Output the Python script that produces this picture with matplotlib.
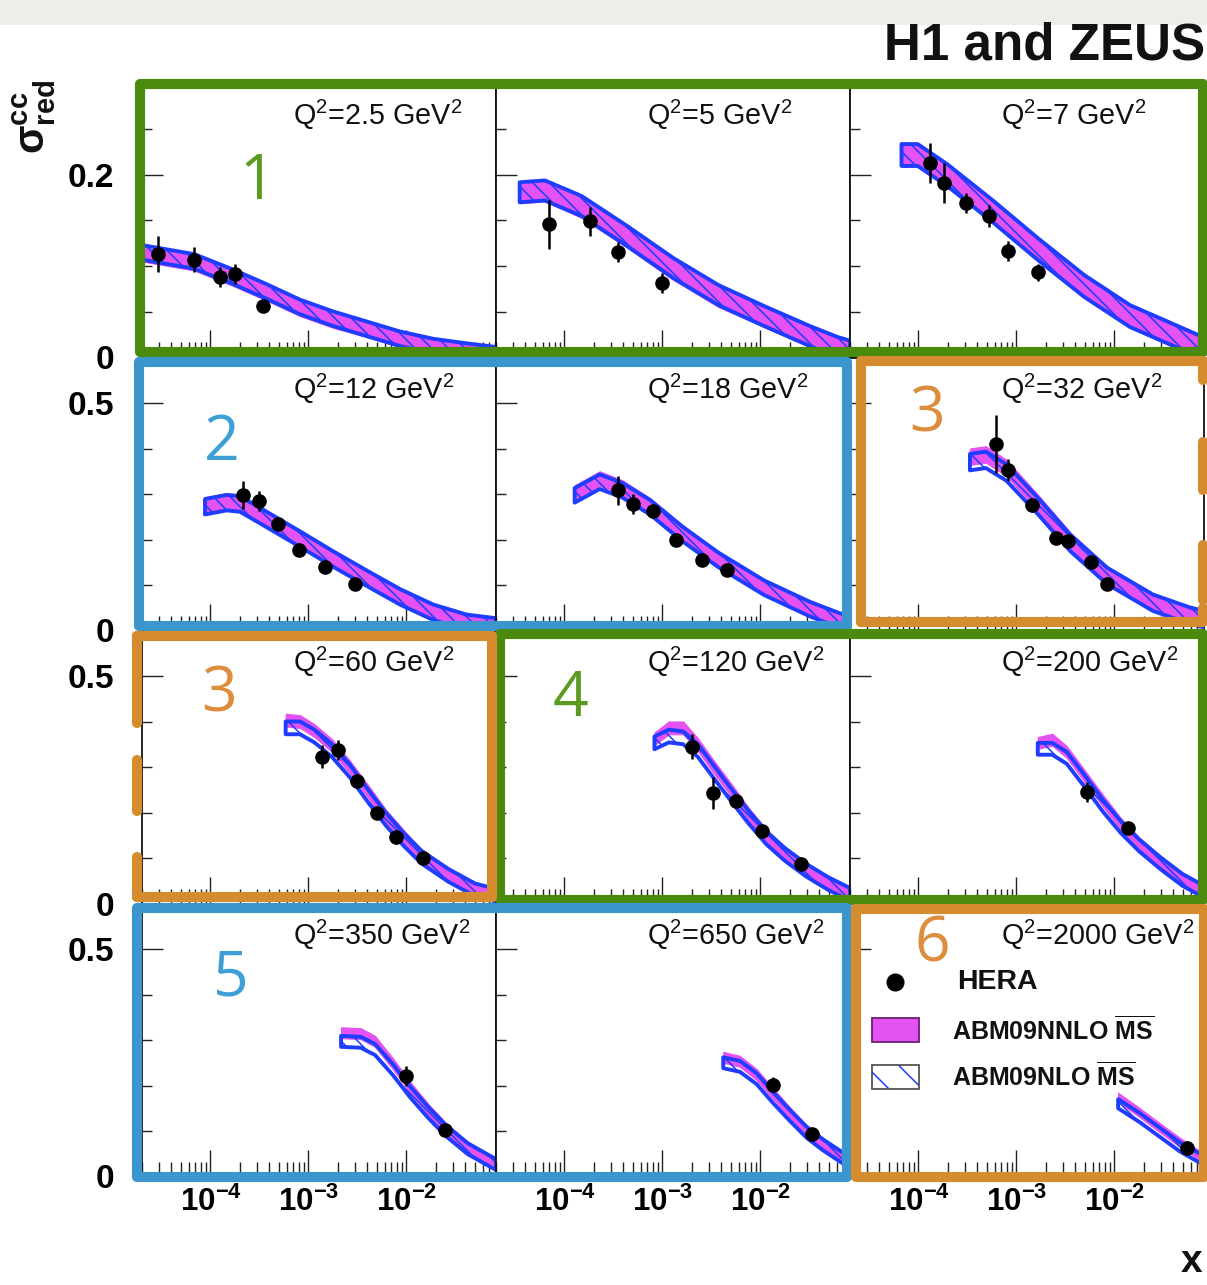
import numpy as np
import matplotlib
matplotlib.use('Agg')
import matplotlib.pyplot as plt
from matplotlib.patches import Rectangle
from matplotlib.ticker import FixedLocator, MultipleLocator, LogLocator, NullFormatter

plt.rcParams['font.family'] = ['Liberation Sans', 'DejaVu Sans']
plt.rcParams['mathtext.default'] = 'regular'
plt.rcParams['hatch.linewidth'] = 1.1

# ------------------------------------------------------------------ data
q2_labels = ['2.5', '5', '7', '12', '18', '32', '60', '120', '200', '350', '650', '2000']

# theory bands: x grid, NNLO centre, NLO centre, half width
band_x_1 = [2.0e-5, 6.84e-5, 1.71e-4, 3.74e-4, 8.19e-4, 1.79e-3, 3.93e-3, 8.59e-3, 1.88e-2, 4.11e-2, 8.2e-2]
nnlo_1 = [0.113, 0.103, 0.086, 0.070, 0.053, 0.040, 0.030, 0.019, 0.011, 0.006, 0.002]
nlo_1 = [0.115, 0.105, 0.088, 0.072, 0.055, 0.042, 0.031, 0.020, 0.012, 0.007, 0.003]

band_x_2 = [3.49e-5, 6.31e-5, 1.49e-4, 4.36e-4, 1.28e-3, 3.73e-3, 1.09e-2, 3.20e-2, 6.11e-2, 8.2e-2]
nnlo_2 = [0.180, 0.182, 0.164, 0.131, 0.096, 0.066, 0.044, 0.022, 0.010, 0.006]
nlo_2 = [0.181, 0.183, 0.166, 0.133, 0.098, 0.068, 0.045, 0.023, 0.011, 0.007]

band_x_3 = [6.71e-5, 9.8e-5, 1.96e-4, 5.75e-4, 1.68e-3, 4.92e-3, 1.44e-2, 4.23e-2, 7.22e-2, 8.2e-2]
nnlo_3 = [0.221, 0.221, 0.199, 0.159, 0.117, 0.077, 0.044, 0.022, 0.011, 0.009]
nlo_3 = [0.222, 0.222, 0.200, 0.160, 0.118, 0.078, 0.045, 0.023, 0.012, 0.010]

band_x_4 = [8.79e-5, 1.46e-4, 2.0e-4, 3.74e-4, 8.19e-4, 1.79e-3, 3.93e-3, 8.59e-3, 1.88e-2, 4.11e-2, 8.2e-2]
nnlo_4 = [0.276, 0.285, 0.282, 0.247, 0.203, 0.158, 0.116, 0.075, 0.040, 0.018, 0.010]
nlo_4 = [0.272, 0.281, 0.278, 0.244, 0.201, 0.157, 0.115, 0.074, 0.040, 0.018, 0.010]

band_x_5 = [1.27e-4, 2.29e-4, 3.91e-4, 7.46e-4, 1.58e-3, 3.73e-3, 1.09e-2, 3.20e-2, 6.44e-2, 8.2e-2]
nnlo_5 = [0.303, 0.334, 0.314, 0.275, 0.217, 0.157, 0.096, 0.048, 0.022, 0.015]
nlo_5 = [0.297, 0.327, 0.308, 0.271, 0.213, 0.155, 0.094, 0.047, 0.022, 0.015]

band_x_6 = [3.35e-4, 4.88e-4, 7.92e-4, 1.68e-3, 3.56e-3, 8.42e-3, 2.47e-2, 5.82e-2, 8.2e-2]
nnlo_6 = [0.382, 0.387, 0.357, 0.279, 0.197, 0.123, 0.063, 0.034, 0.025]
nlo_6 = [0.370, 0.375, 0.347, 0.272, 0.192, 0.120, 0.061, 0.033, 0.025]

band_x_7 = [5.85e-4, 8.19e-4, 1.15e-3, 1.74e-3, 2.65e-3, 4.04e-3, 6.13e-3, 9.34e-3, 1.42e-2, 2.67e-2, 5.01e-2, 8.2e-2]
nnlo_7 = [0.403, 0.400, 0.380, 0.347, 0.300, 0.247, 0.193, 0.148, 0.105, 0.065, 0.032, 0.020]
nlo_7 = [0.386, 0.386, 0.368, 0.336, 0.291, 0.237, 0.186, 0.141, 0.102, 0.062, 0.030, 0.018]

band_x_8 = [8.28e-4, 1.16e-3, 1.63e-3, 2.30e-3, 3.22e-3, 4.93e-3, 7.55e-3, 1.15e-2, 1.77e-2, 2.94e-2, 4.90e-2, 8.2e-2]
nnlo_8 = [0.362, 0.386, 0.386, 0.349, 0.305, 0.252, 0.197, 0.149, 0.111, 0.075, 0.045, 0.021]
nlo_8 = [0.353, 0.368, 0.364, 0.336, 0.294, 0.241, 0.190, 0.144, 0.108, 0.073, 0.044, 0.020]

band_x_9 = [1.65e-3, 2.32e-3, 3.26e-3, 4.97e-3, 7.62e-3, 1.16e-2, 1.78e-2, 2.97e-2, 4.94e-2, 8.2e-2]
nnlo_9 = [0.353, 0.360, 0.333, 0.280, 0.226, 0.175, 0.133, 0.091, 0.054, 0.027]
nlo_9 = [0.340, 0.340, 0.320, 0.269, 0.215, 0.168, 0.128, 0.088, 0.052, 0.026]

band_x_10 = [2.15e-3, 3.41e-3, 4.78e-3, 7.27e-3, 1.10e-2, 1.68e-2, 2.55e-2, 4.23e-2, 7.62e-2, 8.2e-2]
nnlo_10 = [0.316, 0.314, 0.297, 0.248, 0.195, 0.147, 0.105, 0.064, 0.031, 0.028]
nlo_10 = [0.297, 0.295, 0.279, 0.235, 0.185, 0.140, 0.100, 0.061, 0.030, 0.027]

band_x_11 = [4.17e-3, 6.18e-3, 9.14e-3, 1.35e-2, 2.00e-2, 2.96e-2, 4.38e-2, 7.00e-2, 8.2e-2]
nnlo_11 = [0.262, 0.253, 0.224, 0.182, 0.140, 0.101, 0.072, 0.042, 0.035]
nlo_11 = [0.250, 0.242, 0.215, 0.173, 0.134, 0.097, 0.069, 0.040, 0.033]

band_x_12 = [1.09e-2, 1.82e-2, 2.91e-2, 4.66e-2, 7.45e-2, 8.2e-2]
nnlo_12 = [0.174, 0.140, 0.107, 0.075, 0.046, 0.042]
nlo_12 = [0.160, 0.129, 0.097, 0.065, 0.040, 0.036]

band_halfwidth = [0.008, 0.011, 0.012, 0.017, 0.016, 0.018, 0.014, 0.014, 0.013, 0.012, 0.012, 0.010]

# HERA data points
pts_x_1 = [2.93e-5, 6.8e-5, 1.25e-4, 1.78e-4, 3.46e-4]
pts_y_1 = [0.113, 0.107, 0.088, 0.091, 0.056]
pts_e_1 = [0.020, 0.014, 0.011, 0.011, 0.004]

pts_x_2 = [7.0e-5, 1.8e-4, 3.5e-4, 1.0e-3]
pts_y_2 = [0.146, 0.149, 0.115, 0.081]
pts_e_2 = [0.027, 0.016, 0.011, 0.011]

pts_x_3 = [1.31e-4, 1.82e-4, 3.09e-4, 5.2e-4, 8.2e-4, 1.65e-3]
pts_y_3 = [0.213, 0.191, 0.169, 0.155, 0.116, 0.093]
pts_e_3 = [0.022, 0.022, 0.011, 0.012, 0.011, 0.009]

pts_x_4 = [2.16e-4, 3.13e-4, 4.92e-4, 8.0e-4, 1.47e-3, 2.98e-3]
pts_y_4 = [0.297, 0.284, 0.234, 0.176, 0.139, 0.103]
pts_e_4 = [0.031, 0.022, 0.012, 0.008, 0.009, 0.007]

pts_x_5 = [3.52e-4, 5.0e-4, 8.0e-4, 1.38e-3, 2.51e-3, 4.54e-3]
pts_y_5 = [0.308, 0.278, 0.262, 0.199, 0.156, 0.134]
pts_e_5 = [0.032, 0.023, 0.010, 0.008, 0.008, 0.008]

pts_x_6 = [6.2e-4, 8.2e-4, 1.45e-3, 2.51e-3, 3.39e-3, 5.8e-3, 8.45e-3]
pts_y_6 = [0.410, 0.352, 0.276, 0.203, 0.196, 0.150, 0.103]
pts_e_6 = [0.064, 0.024, 0.015, 0.012, 0.015, 0.010, 0.010]

pts_x_7 = [1.38e-3, 1.98e-3, 3.13e-3, 4.98e-3, 7.9e-3, 1.48e-2]
pts_y_7 = [0.323, 0.338, 0.270, 0.199, 0.146, 0.100]
pts_e_7 = [0.025, 0.022, 0.015, 0.010, 0.015, 0.008]

pts_x_8 = [2.02e-3, 3.28e-3, 5.6e-3, 1.03e-2, 2.58e-2]
pts_y_8 = [0.345, 0.243, 0.226, 0.159, 0.086]
pts_e_8 = [0.027, 0.035, 0.012, 0.008, 0.008]

pts_x_9 = [5.28e-3, 1.38e-2]
pts_y_9 = [0.245, 0.166]
pts_e_9 = [0.022, 0.010]

pts_x_10 = [9.9e-3, 2.49e-2]
pts_y_10 = [0.220, 0.103]
pts_e_10 = [0.022, 0.010]

pts_x_11 = [1.33e-2, 3.34e-2]
pts_y_11 = [0.202, 0.094]
pts_e_11 = [0.017, 0.008]

pts_x_12 = [5.46e-2]
pts_y_12 = [0.063]
pts_e_12 = [0.015]

x_tick_labels = [r'$10^{-4}$', r'$10^{-3}$', r'$10^{-2}$']
x_tick_values = [1e-4, 1e-3, 1e-2]

band_x = [band_x_1, band_x_2, band_x_3, band_x_4, band_x_5, band_x_6,
          band_x_7, band_x_8, band_x_9, band_x_10, band_x_11, band_x_12]
nnlo = [nnlo_1, nnlo_2, nnlo_3, nnlo_4, nnlo_5, nnlo_6,
        nnlo_7, nnlo_8, nnlo_9, nnlo_10, nnlo_11, nnlo_12]
nlo = [nlo_1, nlo_2, nlo_3, nlo_4, nlo_5, nlo_6,
       nlo_7, nlo_8, nlo_9, nlo_10, nlo_11, nlo_12]
pts_x = [pts_x_1, pts_x_2, pts_x_3, pts_x_4, pts_x_5, pts_x_6,
         pts_x_7, pts_x_8, pts_x_9, pts_x_10, pts_x_11, pts_x_12]
pts_y = [pts_y_1, pts_y_2, pts_y_3, pts_y_4, pts_y_5, pts_y_6,
         pts_y_7, pts_y_8, pts_y_9, pts_y_10, pts_y_11, pts_y_12]
pts_e = [pts_e_1, pts_e_2, pts_e_3, pts_e_4, pts_e_5, pts_e_6,
         pts_e_7, pts_e_8, pts_e_9, pts_e_10, pts_e_11, pts_e_12]

# ------------------------------------------------------------------ style
MAGENTA = '#e452f2'
BLUE = '#1f3dff'
GREEN_F = '#4a8a0c'
BLUE_F = '#3a96cc'
ORANGE_F = '#d48c2e'
GREEN_T = '#5b9b22'
BLUE_T = '#3e9fd6'
ORANGE_T = '#dc8d3e'

W, H = 1207, 1285
fig = plt.figure(figsize=(W / 100, H / 100), dpi=100)
fig.patch.set_facecolor('white')

col_left = [142, 496, 850]
col_w = 354
row_top = [84, 357.5, 630.5, 903.5]
row_h = 273


def fig_rect(x0, y0, w, h):
    return [x0 / W, 1 - (y0 + h) / H, w / W, h / H]


axes = []
for i in range(12):
    r, c = divmod(i, 3)
    ax = fig.add_axes(fig_rect(col_left[c], row_top[r], col_w, row_h))
    axes.append(ax)
    ax.set_xscale('log')
    ax.set_xlim(2.0e-5, 8.2e-2)
    if r == 0:
        ax.set_ylim(0, 0.3)
        ax.yaxis.set_major_locator(FixedLocator([0, 0.2]))
        ax.yaxis.set_minor_locator(MultipleLocator(0.05))
        ylabels = ['0', '0.2']
    else:
        ax.set_ylim(0, 0.6)
        ax.yaxis.set_major_locator(FixedLocator([0, 0.5]))
        ax.yaxis.set_minor_locator(MultipleLocator(0.1))
        ylabels = ['0', '0.5']
    ax.xaxis.set_major_locator(FixedLocator(x_tick_values))
    ax.xaxis.set_minor_locator(LogLocator(base=10, subs=np.arange(2, 10), numticks=30))
    ax.xaxis.set_minor_formatter(NullFormatter())
    ax.yaxis.set_minor_formatter(NullFormatter())
    if c == 0:
        ax.set_yticklabels(ylabels, fontsize=24, fontweight='bold')
    else:
        ax.set_yticklabels([])
    if r == 3:
        ax.set_xticklabels(x_tick_labels, fontsize=22.5, fontweight='bold')
    else:
        ax.set_xticklabels([])
    ax.tick_params(axis='both', which='both', direction='in', top=False, right=False,
                   width=1.0, color='#222222')
    ax.tick_params(axis='y', which='major', length=15, pad=20)
    ax.tick_params(axis='y', which='minor', length=7.5)
    ax.tick_params(axis='x', which='major', length=19.5, pad=7)
    ax.tick_params(axis='x', which='minor', length=10.5)
    for sp in ax.spines.values():
        sp.set_linewidth(1.3)
        sp.set_color('#111111')

    bx = np.array(band_x[i])
    hw = band_halfwidth[i]
    c_nnlo = np.array(nnlo[i])
    c_nlo = np.array(nlo[i])
    ax.fill_between(bx, c_nnlo - hw, c_nnlo + hw, facecolor=MAGENTA, edgecolor=MAGENTA,
                    linewidth=0.8, zorder=2)
    ax.fill_between(bx, c_nlo - hw, c_nlo + hw, facecolor='none', edgecolor=BLUE,
                    hatch='\\\\', linewidth=2.8, zorder=3)
    ax.errorbar(pts_x[i], pts_y[i], yerr=pts_e[i], fmt='o', color='black', ms=9.5,
                elinewidth=1.8, capsize=0, zorder=5)
    ax.text(151 / col_w, 1 - 31 / row_h, 'Q$^{2}$=' + q2_labels[i] + ' GeV$^{2}$',
            transform=ax.transAxes, ha='left', va='center', fontsize=20.7, color='#111111')

# legend in last panel
lax = axes[11]
lax.plot([0.127], [0.711], 'o', color='black', ms=12, transform=lax.transAxes, zorder=6)
lax.text(0.302, 0.711, 'HERA', transform=lax.transAxes, va='center', ha='left',
         fontsize=20.5, fontweight='bold', color='#111111')
lax.add_patch(Rectangle((0.062, 0.491), 0.133, 0.088, transform=lax.transAxes,
                        facecolor=MAGENTA, edgecolor='#6a2070', linewidth=1.3, zorder=6))
lax.text(0.288, 0.535, r'ABM09NNLO $\overline{MS}$', transform=lax.transAxes,
         va='center', ha='left', fontsize=18, fontweight='bold', color='#111111')
lax.add_patch(Rectangle((0.062, 0.322), 0.133, 0.085, transform=lax.transAxes,
                        facecolor='white', edgecolor=BLUE, hatch='\\', linewidth=0, zorder=6))
lax.add_patch(Rectangle((0.062, 0.322), 0.133, 0.085, transform=lax.transAxes,
                        facecolor='none', edgecolor='#555555', linewidth=1.3, zorder=7))
lax.text(0.288, 0.366, r'ABM09NLO $\overline{MS}$', transform=lax.transAxes,
         va='center', ha='left', fontsize=18, fontweight='bold', color='#111111')

# ------------------------------------------------------------------ overlay (frames, numbers, titles)
ov = fig.add_axes([0, 0, 1, 1], zorder=20)
ov.set_xlim(0, W)
ov.set_ylim(H, 0)
ov.axis('off')
ov.patch.set_alpha(0)

ov.add_patch(Rectangle((0, 0), W, 25, facecolor='#efede9', edgecolor='none'))

LW = 7.3
frames = [
    (140, 84, 1203, 352, GREEN_F),
    (139, 362, 847, 626, BLUE_F),
    (500, 634, 1203, 900, GREEN_F),
    (137, 908, 847, 1177, BLUE_F),
    (856, 909, 1204, 1177, ORANGE_F),
]
for x0, y0, x1, y1, col in frames:
    ov.add_patch(Rectangle((x0, y0), x1 - x0, y1 - y0, facecolor='none', edgecolor=col,
                           linewidth=LW, joinstyle='round'))

# orange frame around Q2=32 (broken right edge)
seg_kw = dict(color=ORANGE_F, linewidth=LW, solid_capstyle='round')
ov.plot([861, 1203], [361, 361], **seg_kw)
ov.plot([861, 1203], [622, 622], **seg_kw)
ov.plot([861, 861], [361, 622], **seg_kw)
for ya, yb in [(361, 380), (442, 490), (545, 600), (608, 622)]:
    ov.plot([1203, 1203], [ya, yb], **seg_kw)
# orange frame around Q2=60 (broken left edge)
ov.plot([137, 492], [636, 636], **seg_kw)
ov.plot([137, 492], [897, 897], **seg_kw)
ov.plot([492, 492], [636, 897], **seg_kw)
for ya, yb in [(636, 723), (760, 811), (857, 897)]:
    ov.plot([137, 137], [ya, yb], **seg_kw)

numbers = [('1', 257, 183, GREEN_T), ('2', 222, 444, BLUE_T), ('3', 927, 415, ORANGE_T),
           ('3', 219, 695, ORANGE_T), ('4', 571, 700, GREEN_T), ('5', 231, 979, BLUE_T),
           ('6', 932, 945, ORANGE_T)]
for t, x, y, col in numbers:
    ov.text(x, y, t, ha='center', va='center', fontsize=45, color=col,
            family=['Open Sans', 'DejaVu Sans'])

ov.text(1205, 46, 'H1 and ZEUS', ha='right', va='center', fontsize=36.8,
        fontweight='bold', color='#111111')
ov.text(34, 117, r'$\sigma^{cc}_{red}$', rotation=90, ha='center', va='center',
        fontsize=30, fontweight='bold', color='#111111')
ov.text(1192, 1262, 'x', ha='center', va='center', fontsize=28, fontweight='bold',
        color='#111111')

fig.savefig('out.png', dpi=100)
